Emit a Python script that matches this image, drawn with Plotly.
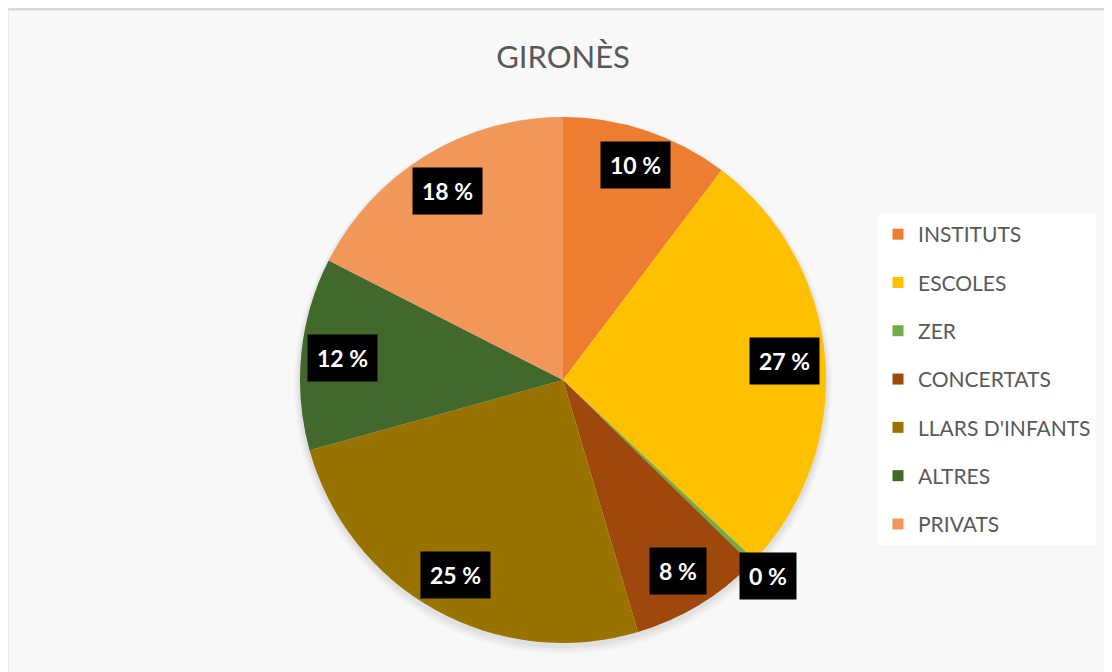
import math
import plotly.graph_objects as go

# ---- data ----
categories = ["INSTITUTS", "ESCOLES", "ZER", "CONCERTATS", "LLARS D'INFANTS", "ALTRES", "PRIVATS"]
values = [10.3, 26.7, 0.3, 8.1, 25.3, 11.8, 17.5]
colors = ["#ED7D31", "#FFC000", "#70AD47", "#9E480E", "#997300", "#43682B", "#F1975A"]
title_text = "GIRONÈS"

# ---- layout geometry (page has an 8px body margin) ----
OFF = 8
W, H = 1112 - OFF, 672 - OFF
CX, CY, R = 563 - OFF, 380 - OFF, 263
FONT = "Lato"
BOX_HW, BOX_HH = 36, 22  # approx half size of a label box, px

def px(x):
    return x / W

def py(y):
    return 1 - y / H

def fit_radius(angle, rmax):
    """Largest radius <= rmax keeping the label box inside the pie."""
    s, c = math.sin(angle), math.cos(angle)
    r = rmax
    while r > 0:
        fx = abs(s) * r + BOX_HW
        fy = abs(c) * r + BOX_HH
        if math.hypot(fx, fy) <= R - 2:
            break
        r -= 1
    return r

total = sum(values)
labels_txt = [f"{round(v / total * 100)} %" for v in values]

fig = go.Figure()
fig.add_trace(go.Pie(
    labels=categories, values=values, sort=False, direction="clockwise",
    rotation=0, marker=dict(colors=colors, line=dict(width=0)),
    textinfo="none", hoverinfo="label+percent", showlegend=False,
    domain=dict(x=[px(CX - R), px(CX + R)], y=[py(CY + R), py(CY - R)]),
))

# legend entries (one per category, spaced like the reference)
for cat, col in zip(categories, colors):
    fig.add_trace(go.Scatter(
        x=[None], y=[None], mode="markers", name=cat, legendgroup=cat,
        marker=dict(symbol="square", size=11, color=col), hoverinfo="skip",
    ))

# data labels in black boxes, placed at slice mid-angles
annotations = []
cum = 0.0
for v, t in zip(values, labels_txt):
    mid = (cum + v / 2) / total * 2 * math.pi
    cum += v
    if v / total > 0.01:
        r = fit_radius(mid, 0.87 * R)
    else:
        r = 1.08 * R
    lx = CX + r * math.sin(mid)
    ly = CY - r * math.cos(mid)
    annotations.append(dict(
        x=px(lx), y=py(ly), xref="paper", yref="paper", text=f"<b>{t}</b>",
        showarrow=False, font=dict(family=FONT, size=23, color="white"),
        bgcolor="black", borderpad=9, xanchor="center", yanchor="middle",
    ))

shapes = [dict(type="rect", xref="paper", yref="paper", layer="below",
               x0=px(-1), x1=1.02, y0=-0.02, y1=py(1),
               fillcolor="#f8f8f8", line=dict(color="#d9d9d9", width=3))]
# soft shadow beneath the pie
for grow, dy, a in [(6, 5, 0.025), (4, 4, 0.03), (2, 3, 0.04)]:
    shapes.append(dict(type="circle", xref="paper", yref="paper", layer="below",
                       x0=px(CX - R - grow), x1=px(CX + R + grow),
                       y0=py(CY + dy + R + grow), y1=py(CY + dy - R - grow),
                       fillcolor=f"rgba(0,0,0,{a})", line=dict(width=0)))

fig.update_layout(
    width=W, height=H,
    margin=dict(l=0, r=0, t=0, b=0),
    paper_bgcolor="white", plot_bgcolor="rgba(0,0,0,0)",
    title=dict(text=title_text, x=px(CX), xanchor="center", y=py(57 - OFF), yanchor="middle",
               font=dict(family=FONT, size=31, color="#595959")),
    xaxis=dict(visible=False), yaxis=dict(visible=False),
    legend=dict(x=px(878 - OFF), y=py(214 - OFF), xanchor="left", yanchor="top",
                bgcolor="white", borderwidth=0, tracegroupgap=18,
                font=dict(family=FONT, size=21, color="#595959"),
                itemclick=False, itemdoubleclick=False),
    annotations=annotations,
    shapes=shapes,
)

fig.write_html("out.html")
